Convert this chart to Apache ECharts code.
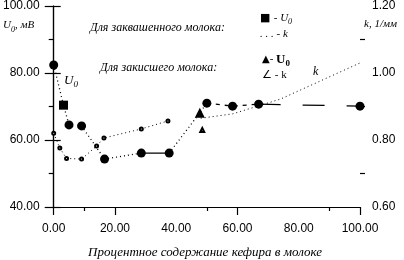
<!DOCTYPE html>
<html>
<head>
<meta charset="utf-8">
<script src="https://cdn.jsdelivr.net/npm/echarts@6/dist/echarts.min.js"></script>
<style>
  html, body { margin: 0; padding: 0; background: #fff; }
  #main { width: 404px; height: 260px; }
</style>
</head>
<body>
<div id="main"></div>
<script>
var chartDom = document.getElementById('main');
var myChart = echarts.init(chartDom);
var option;

// U0, мВ (left axis)
var u0X = [0, 3.2, 5, 9.1, 16.6, 28.6, 37.7, 47.7, 50, 58.4, 66.9, 100];
var u0Y = [82.4, 70.4, 64.5, 64.2, 54.3, 56.1, 56.1, 68.1, 71.0, 70.1, 70.7, 70.1];
var u0Marks = ['circle', 'rect', 'circle', 'circle', 'circle', 'circle', 'circle',
  'triangle', 'circle', 'circle', 'circle', 'circle'];

// k, 1/мм (right axis)
var kFermX = [0, 2, 4.2, 9.1, 14, 16.4, 28.6, 37.3];
var kFermY = [0.82, 0.776, 0.745, 0.743, 0.782, 0.806, 0.833, 0.857];
var kSourX = [48, 58.4, 74, 100];
var kSourY = [0.865, 0.878, 0.922, 1.03];
var kSourMarkX = [48.5];
var kSourMarkY = [0.83];

var xLabels = [0, 20, 40, 60, 80, 100];
var xMajorTicks = [0, 20, 60, 100];
var xMinorTicks = [10, 50, 90];
var leftLabels = [40, 60, 80, 100];
var leftMinorTicks = [50, 70, 90];
var rightLabels = [0.6, 0.8, 1.0, 1.2];
var rightMinorTicks = [0.7, 0.9, 1.1];

function pts(xs, ys) {
  return xs.map(function (x, i) { return [x, ys[i]]; });
}
var u0 = pts(u0X, u0Y);

// line pieces between U0 points: [from, to, dash]
var pieces = [
  [0, 2, [1, 3]],
  [3, 5, [1, 3]],
  [5, 6, 'solid'],
  [6, 8, [1, 3]],
  [8, 10, [4, 5]],
  [10, 11, [22, 22]]
];

var sans = 'Liberation Sans';
var serif = 'Liberation Serif';
var black = '#000';

var series = pieces.map(function (p) {
  return {
    type: 'line',
    xAxisIndex: 0, yAxisIndex: 0,
    data: u0.slice(p[0], p[1] + 1),
    showSymbol: false,
    silent: true,
    lineStyle: { color: black, width: 1.3, type: p[2] }
  };
});

series.push({
  type: 'scatter',
  xAxisIndex: 0, yAxisIndex: 0,
  z: 5,
  data: u0.map(function (p, i) {
    return {
      value: p,
      symbol: u0Marks[i],
      symbolSize: u0Marks[i] === 'triangle' ? 10 : 9
    };
  }),
  itemStyle: { color: black, opacity: 1 }
});

series.push({
  type: 'line',
  xAxisIndex: 0, yAxisIndex: 1,
  data: pts(kFermX, kFermY),
  symbol: 'emptyCircle',
  symbolSize: 3,
  itemStyle: { color: black, borderWidth: 0.7, opacity: 1 },
  lineStyle: { color: black, width: 1, type: [1, 3] }
});

series.push({
  type: 'line',
  xAxisIndex: 0, yAxisIndex: 1,
  data: pts(kSourX, kSourY),
  showSymbol: false,
  lineStyle: { color: black, width: 1, type: [1, 3] }
});

series.push({
  type: 'scatter',
  xAxisIndex: 0, yAxisIndex: 1,
  data: pts(kSourMarkX, kSourMarkY),
  symbol: 'emptyTriangle',
  symbolSize: 4,
  itemStyle: { color: black, borderWidth: 0.7, opacity: 1 }
});

function fmt2(v) { return Number(v).toFixed(2); }

option = {
  animation: false,
  backgroundColor: '#fff',
  grid: { left: 52, right: 44, top: 5, bottom: 53 },
  xAxis: [
    {
      type: 'value', min: 0, max: 100, interval: 20,
      axisLine: { lineStyle: { color: black, width: 1.2 } },
      axisTick: { customValues: xMajorTicks, length: 8, lineStyle: { color: black, width: 1.2 } },
      axisLabel: { customValues: xLabels, formatter: fmt2, color: black, fontFamily: sans, fontSize: 12, margin: 16 },
      splitLine: { show: false }
    },
    {
      type: 'value', min: 0, max: 100, position: 'bottom',
      axisLine: { show: false },
      axisTick: { customValues: xMinorTicks, length: 4, lineStyle: { color: black, width: 1.2 } },
      axisLabel: { show: false },
      splitLine: { show: false }
    }
  ],
  yAxis: [
    {
      type: 'value', min: 40, max: 100, interval: 20,
      axisLine: { show: true, lineStyle: { color: black, width: 1.2 } },
      axisTick: { customValues: leftLabels, length: 9, lineStyle: { color: black, width: 1.2 } },
      axisLabel: { customValues: leftLabels, formatter: fmt2, color: black, fontFamily: sans, fontSize: 12, margin: 14 },
      splitLine: { show: false }
    },
    {
      type: 'value', min: 0.6, max: 1.2, interval: 0.2, position: 'right',
      axisLine: { show: true, lineStyle: { color: black, width: 1.2 } },
      axisTick: { customValues: rightLabels, length: 7, lineStyle: { color: black, width: 1.2 } },
      axisLabel: { customValues: rightLabels, formatter: fmt2, color: black, fontFamily: sans, fontSize: 12, margin: 12 },
      splitLine: { show: false }
    },
    {
      type: 'value', min: 40, max: 100, position: 'left',
      axisLine: { show: false },
      axisTick: { customValues: leftMinorTicks, length: 5, lineStyle: { color: black, width: 1.2 } },
      axisLabel: { show: false },
      splitLine: { show: false }
    },
    {
      type: 'value', min: 0.6, max: 1.2, position: 'right',
      axisLine: { show: false },
      axisTick: { customValues: rightMinorTicks, length: 5, lineStyle: { color: black, width: 1.2 } },
      axisLabel: { show: false },
      splitLine: { show: false }
    }
  ],
  graphic: [
    {
      type: 'text', left: 3, top: 20,
      style: {
        text: '{i|U}{s|0}{i|, мВ}',
        rich: {
          i: { fontFamily: serif, fontStyle: 'italic', fontSize: 11, fill: black },
          s: { fontFamily: serif, fontStyle: 'italic', fontSize: 8, fill: black, padding: [8, 0, 0, 0] }
        }
      }
    },
    {
      type: 'text', left: 364, top: 19,
      style: { text: 'k, 1/мм', fontFamily: serif, fontStyle: 'italic', fontSize: 11, fill: black }
    },
    {
      type: 'text', left: 88, top: 246,
      style: { text: 'Процентное содержание кефира в молоке', fontFamily: serif, fontStyle: 'italic', fontSize: 13, fill: black }
    },
    {
      type: 'text', left: 90, top: 22,
      style: { text: 'Для заквашенного молока:', fontFamily: serif, fontStyle: 'italic', fontSize: 12, fill: black }
    },
    {
      type: 'text', left: 100, top: 62,
      style: { text: 'Для закисшего молока:', fontFamily: serif, fontStyle: 'italic', fontSize: 12, fill: black }
    },
    {
      type: 'text', left: 260, top: 12,
      style: {
        text: '{m|■} {t|- }{i|U}{s|0}',
        rich: {
          m: { fontFamily: 'DejaVu Sans', fontSize: 11, fill: black },
          t: { fontFamily: serif, fontSize: 11, fill: black },
          i: { fontFamily: serif, fontStyle: 'italic', fontSize: 11, fill: black },
          s: { fontFamily: serif, fontStyle: 'italic', fontSize: 8, fill: black, padding: [8, 0, 0, 0] }
        }
      }
    },
    {
      type: 'text', left: 260, top: 29,
      style: { text: '. . . - k', fontFamily: serif, fontStyle: 'italic', fontSize: 11, fill: black }
    },
    {
      type: 'text', left: 262, top: 53,
      style: {
        text: '{m|▲}{t|- }{i|U}{s|0}',
        rich: {
          m: { fontFamily: 'DejaVu Sans', fontSize: 10, fill: black },
          t: { fontFamily: serif, fontSize: 11, fill: black },
          i: { fontFamily: serif, fontWeight: 'bold', fontSize: 13, fill: black },
          s: { fontFamily: serif, fontWeight: 'bold', fontSize: 9, fill: black, padding: [8, 0, 0, 0] }
        }
      }
    },
    {
      type: 'text', left: 262, top: 70,
      style: { text: '∠ - k', fontFamily: serif, fontSize: 11, fill: black }
    },
    {
      type: 'text', left: 64, top: 74,
      style: {
        text: '{i|U}{s|0}',
        rich: {
          i: { fontFamily: serif, fontStyle: 'italic', fontSize: 13, fill: black },
          s: { fontFamily: serif, fontStyle: 'italic', fontSize: 9, fill: black, padding: [9, 0, 0, 0] }
        }
      }
    },
    {
      type: 'text', left: 313, top: 66,
      style: { text: 'k', fontFamily: serif, fontStyle: 'italic', fontSize: 12, fill: black }
    }
  ],
  series: series
};

option && myChart.setOption(option);
</script>
</body>
</html>
